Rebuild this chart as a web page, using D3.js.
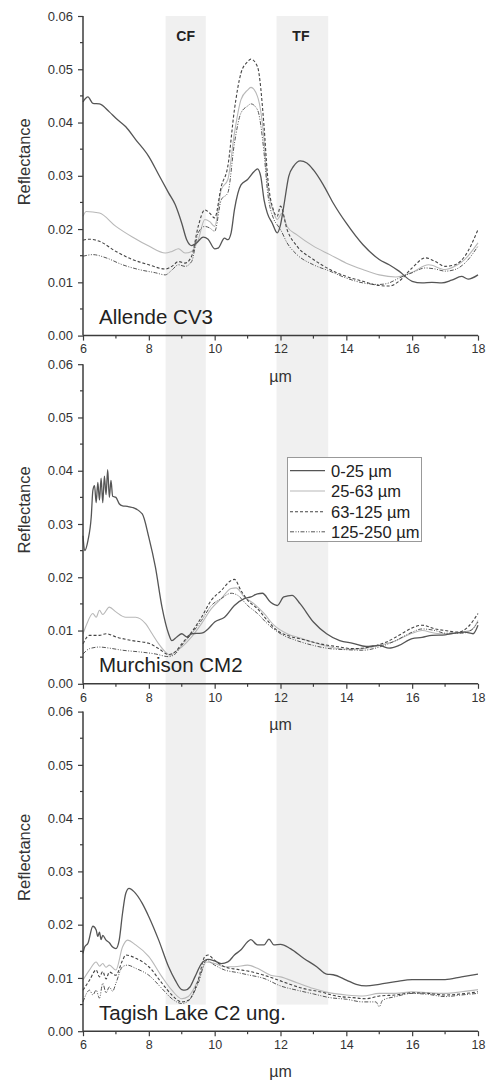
<!DOCTYPE html>
<html><head><meta charset="utf-8">
<script src="https://cdn.jsdelivr.net/npm/d3@7/dist/d3.min.js"></script>
<style>html,body{margin:0;padding:0;background:#fff}svg{display:block}</style>
</head><body><svg id="c" width="487" height="1082"></svg>
<script>
// ---------- DATA ----------
const seriesNames = ["0-25 µm", "25-63 µm", "63-125 µm", "125-250 µm"];
const panelNames = ["Allende CV3", "Murchison CM2", "Tagish Lake C2 ung."];
const xTicks = [6, 8, 10, 12, 14, 16, 18];
const yTicks = [0.00, 0.01, 0.02, 0.03, 0.04, 0.05, 0.06];
const bandCF = [8.51, 9.73];
const bandTF = [11.88, 13.45];

const allende_0_25 = [[6.0,0.0439],[6.15,0.0448],[6.3,0.0436],[6.5,0.0435],[6.8,0.042],[7.0,0.0408],[7.3,0.0392],[7.6,0.0368],[8.0,0.0336],[8.3,0.0302],[8.6,0.0268],[8.8,0.0246],[9.0,0.0211],[9.15,0.018],[9.3,0.0169],[9.45,0.0174],[9.65,0.0185],[9.8,0.0181],[10.0,0.0163],[10.1,0.0164],[10.3,0.0183],[10.4,0.018],[10.5,0.0193],[10.6,0.0236],[10.8,0.0283],[11.0,0.0293],[11.2,0.0308],[11.3,0.0313],[11.4,0.0299],[11.5,0.0255],[11.6,0.023],[11.75,0.0211],[11.9,0.0193],[12.0,0.0208],[12.1,0.0243],[12.25,0.0299],[12.4,0.0318],[12.6,0.0328],[12.8,0.0324],[13.0,0.0311],[13.3,0.0283],[13.6,0.0249],[14.0,0.0211],[14.5,0.0171],[15.0,0.0143],[15.3,0.0133],[15.6,0.0121],[16.0,0.0102],[16.3,0.0099],[16.6,0.01],[16.9,0.0099],[17.2,0.0104],[17.5,0.0111],[17.7,0.0106],[18.0,0.0114]];
const allende_25_63 = [[6.0,0.0224],[6.1,0.0233],[6.5,0.023],[7.0,0.0205],[7.5,0.0185],[8.0,0.0168],[8.5,0.0155],[8.7,0.0158],[8.9,0.0163],[9.1,0.0155],[9.3,0.0158],[9.5,0.018],[9.7,0.0218],[9.85,0.0214],[10.0,0.0205],[10.2,0.0274],[10.4,0.0293],[10.6,0.038],[10.8,0.0443],[11.0,0.0461],[11.1,0.0466],[11.3,0.0449],[11.5,0.0368],[11.6,0.0286],[11.8,0.023],[11.9,0.0218],[12.05,0.023],[12.2,0.0205],[12.5,0.0189],[13.0,0.0168],[13.5,0.0152],[14.0,0.0136],[14.5,0.0124],[15.0,0.0114],[15.5,0.011],[16.0,0.0119],[16.5,0.0133],[17.0,0.0124],[17.3,0.013],[17.6,0.0143],[18.0,0.0174]];
const allende_63_125 = [[6.0,0.0179],[6.2,0.0181],[6.5,0.0177],[7.0,0.0158],[7.5,0.0143],[8.0,0.0133],[8.5,0.0125],[8.7,0.013],[8.9,0.0139],[9.1,0.0136],[9.3,0.0149],[9.5,0.0205],[9.7,0.0236],[9.85,0.023],[10.0,0.0221],[10.2,0.028],[10.4,0.0318],[10.6,0.0424],[10.8,0.0493],[11.0,0.0514],[11.1,0.0519],[11.3,0.0505],[11.5,0.0393],[11.6,0.0305],[11.8,0.0233],[11.9,0.0224],[12.0,0.0243],[12.2,0.0199],[12.5,0.0168],[13.0,0.0143],[13.5,0.0124],[14.0,0.0111],[14.5,0.0102],[15.0,0.0094],[15.3,0.0093],[15.6,0.0102],[16.0,0.0127],[16.4,0.0146],[16.7,0.0139],[17.0,0.013],[17.3,0.0133],[17.6,0.0149],[18.0,0.0199]];
const allende_125_250 = [[6.0,0.0149],[6.3,0.0152],[6.7,0.0146],[7.2,0.0133],[7.7,0.0124],[8.2,0.0118],[8.5,0.0114],[8.7,0.0123],[8.9,0.0133],[9.1,0.013],[9.3,0.0139],[9.5,0.0193],[9.7,0.0205],[9.85,0.0202],[10.0,0.0196],[10.2,0.0255],[10.4,0.0268],[10.6,0.0361],[10.8,0.0418],[11.0,0.0431],[11.1,0.0435],[11.3,0.0424],[11.5,0.0343],[11.6,0.0274],[11.8,0.0218],[11.9,0.0208],[12.0,0.0199],[12.2,0.0174],[12.5,0.0152],[13.0,0.0133],[13.5,0.0121],[14.0,0.0108],[14.5,0.0099],[15.0,0.0096],[15.3,0.0099],[15.6,0.0108],[16.0,0.0118],[16.4,0.0127],[16.7,0.0125],[17.0,0.0121],[17.3,0.0124],[17.6,0.0136],[18.0,0.0168]];

const murchison_0_25 = [[6.0,0.0278],[6.05,0.025],[6.15,0.0269],[6.25,0.0313],[6.3,0.0363],[6.35,0.0372],[6.4,0.034],[6.45,0.0378],[6.5,0.0345],[6.55,0.0386],[6.6,0.034],[6.65,0.039],[6.7,0.0355],[6.75,0.0402],[6.8,0.035],[6.85,0.0382],[6.9,0.0352],[7.0,0.035],[7.1,0.0338],[7.2,0.0334],[7.35,0.0333],[7.5,0.0331],[7.8,0.0319],[8.0,0.0275],[8.2,0.0219],[8.4,0.0144],[8.6,0.0094],[8.7,0.0081],[8.85,0.0088],[9.0,0.0094],[9.15,0.0088],[9.3,0.0094],[9.6,0.0095],[9.8,0.0103],[10.0,0.0116],[10.3,0.0125],[10.6,0.0147],[10.9,0.016],[11.1,0.0163],[11.3,0.0169],[11.45,0.017],[11.7,0.0153],[11.9,0.0147],[12.1,0.0163],[12.35,0.0166],[12.6,0.015],[13.0,0.0116],[13.4,0.0094],[13.8,0.0081],[14.2,0.0076],[14.6,0.007],[15.0,0.0072],[15.3,0.0067],[15.6,0.0072],[16.0,0.0085],[16.3,0.0087],[16.6,0.0091],[17.0,0.0092],[17.3,0.0095],[17.6,0.0097],[17.85,0.0094],[18.0,0.011]];
const murchison_25_63 = [[6.0,0.0094],[6.1,0.011],[6.3,0.0132],[6.4,0.0125],[6.5,0.0138],[6.6,0.013],[6.8,0.0144],[7.0,0.0135],[7.3,0.0125],[7.6,0.0125],[7.9,0.0113],[8.1,0.0094],[8.3,0.0075],[8.5,0.006],[8.65,0.0053],[8.8,0.006],[9.0,0.0069],[9.3,0.0088],[9.6,0.0113],[9.9,0.0141],[10.2,0.016],[10.5,0.0179],[10.65,0.018],[10.9,0.0163],[11.2,0.015],[11.5,0.0132],[11.8,0.011],[12.2,0.0094],[12.6,0.0086],[13.0,0.0078],[13.5,0.0069],[14.0,0.0065],[14.5,0.0066],[15.0,0.0072],[15.5,0.0081],[16.0,0.0095],[16.3,0.01],[16.7,0.0095],[17.0,0.0094],[17.5,0.0097],[17.8,0.0101],[18.0,0.0119]];
const murchison_63_125 = [[6.0,0.0075],[6.2,0.0091],[6.5,0.0091],[6.7,0.0094],[7.0,0.0088],[7.5,0.0081],[8.0,0.0076],[8.3,0.0066],[8.6,0.0055],[8.8,0.006],[9.0,0.0075],[9.3,0.0097],[9.6,0.0125],[9.9,0.0157],[10.2,0.0175],[10.5,0.0194],[10.6,0.0196],[10.8,0.0175],[11.0,0.0157],[11.3,0.0141],[11.6,0.0119],[11.9,0.01],[12.3,0.0089],[12.7,0.0083],[13.2,0.0075],[13.7,0.007],[14.2,0.0066],[14.7,0.0069],[15.2,0.0078],[15.6,0.0091],[16.0,0.0105],[16.3,0.011],[16.7,0.0103],[17.0,0.01],[17.4,0.0097],[17.7,0.0107],[18.0,0.0132]];
const murchison_125_250 = [[6.0,0.0056],[6.2,0.0066],[6.5,0.0069],[6.8,0.0067],[7.2,0.0063],[7.7,0.006],[8.2,0.0056],[8.6,0.0051],[8.8,0.0056],[9.0,0.0072],[9.3,0.0094],[9.6,0.0119],[9.9,0.0147],[10.2,0.016],[10.5,0.017],[10.7,0.0166],[11.0,0.0147],[11.3,0.0132],[11.6,0.0113],[12.0,0.0094],[12.5,0.0081],[13.0,0.0072],[13.5,0.0066],[14.0,0.0064],[14.5,0.0063],[15.0,0.0069],[15.5,0.0081],[16.0,0.0097],[16.3,0.0103],[16.7,0.01],[17.0,0.0095],[17.5,0.0095],[17.8,0.0101],[18.0,0.0116]];

const tagish_0_25 = [[6.0,0.0146],[6.05,0.0158],[6.15,0.0165],[6.3,0.0197],[6.4,0.019],[6.45,0.0178],[6.5,0.0186],[6.55,0.0172],[6.6,0.018],[6.7,0.0171],[6.8,0.0166],[6.9,0.0158],[7.0,0.0155],[7.1,0.0171],[7.2,0.0221],[7.3,0.0259],[7.4,0.0268],[7.55,0.0262],[7.8,0.024],[8.0,0.0215],[8.3,0.0171],[8.6,0.0121],[8.8,0.0096],[9.0,0.0078],[9.1,0.0077],[9.25,0.0083],[9.4,0.0102],[9.6,0.0127],[9.8,0.0135],[10.0,0.0132],[10.2,0.0127],[10.4,0.013],[10.6,0.0143],[10.8,0.0153],[11.0,0.0168],[11.1,0.0172],[11.3,0.0162],[11.5,0.0162],[11.65,0.0173],[11.8,0.0162],[12.0,0.0163],[12.3,0.0155],[12.7,0.0137],[13.1,0.0121],[13.4,0.0107],[13.6,0.0106],[14.0,0.0096],[14.3,0.0088],[14.6,0.0085],[15.0,0.0088],[15.5,0.0093],[16.0,0.0097],[16.5,0.0097],[17.0,0.0097],[17.5,0.0102],[18.0,0.0107]];
const tagish_25_63 = [[6.0,0.0096],[6.2,0.0115],[6.4,0.013],[6.5,0.0122],[6.6,0.0127],[6.7,0.012],[6.8,0.0124],[7.0,0.0115],[7.2,0.0158],[7.35,0.0171],[7.6,0.0162],[8.0,0.014],[8.4,0.0102],[8.7,0.0077],[9.0,0.0061],[9.2,0.0065],[9.5,0.0096],[9.75,0.013],[10.0,0.0127],[10.3,0.0121],[10.6,0.0121],[11.0,0.0124],[11.3,0.0118],[11.7,0.0105],[12.0,0.0102],[12.5,0.0091],[13.0,0.008],[13.5,0.0072],[14.0,0.0068],[14.5,0.0066],[15.0,0.0071],[15.5,0.0071],[16.0,0.0074],[16.5,0.0072],[17.0,0.0071],[17.5,0.0074],[18.0,0.0078]];
const tagish_63_125 = [[6.0,0.0077],[6.2,0.0096],[6.4,0.0115],[6.5,0.0102],[6.6,0.0112],[6.7,0.0098],[6.8,0.0111],[7.0,0.0105],[7.2,0.0133],[7.3,0.0143],[7.6,0.0137],[8.0,0.0121],[8.4,0.009],[8.7,0.0068],[9.0,0.0055],[9.2,0.0058],[9.5,0.0096],[9.7,0.014],[9.8,0.0143],[10.0,0.0133],[10.3,0.0121],[10.7,0.0116],[11.0,0.0113],[11.4,0.0107],[11.8,0.0099],[12.2,0.009],[12.7,0.008],[13.2,0.0074],[13.7,0.0066],[14.2,0.0063],[14.6,0.0061],[15.0,0.0066],[15.5,0.0068],[16.0,0.0072],[16.5,0.0071],[17.0,0.0068],[17.5,0.007],[18.0,0.0074]];
const tagish_125_250 = [[6.0,0.0055],[6.2,0.0077],[6.3,0.0068],[6.4,0.0077],[6.5,0.0062],[6.6,0.009],[6.7,0.0072],[6.8,0.0083],[6.9,0.0075],[7.0,0.009],[7.2,0.0121],[7.35,0.0124],[7.6,0.0118],[8.0,0.0105],[8.4,0.008],[8.7,0.0061],[9.0,0.0052],[9.2,0.0057],[9.5,0.009],[9.75,0.0133],[10.0,0.0124],[10.3,0.0115],[10.7,0.011],[11.0,0.0106],[11.5,0.0099],[12.0,0.0085],[12.5,0.0077],[13.0,0.007],[13.5,0.0063],[14.0,0.006],[14.5,0.0055],[14.9,0.0055],[15.0,0.0046],[15.1,0.0058],[15.5,0.0065],[16.0,0.0071],[16.5,0.0069],[17.0,0.0065],[17.5,0.0068],[18.0,0.0071]];

const panelData = [
  [allende_0_25, allende_25_63, allende_63_125, allende_125_250],
  [murchison_0_25, murchison_25_63, murchison_63_125, murchison_125_250],
  [tagish_0_25, tagish_25_63, tagish_63_125, tagish_125_250]
];

// ---------- STYLE / LAYOUT ----------
const styles = [
  {stroke:"#555", width:1.3, dash:null},
  {stroke:"#b8b8b8", width:1.1, dash:null},
  {stroke:"#444", width:1.1, dash:"3,2"},
  {stroke:"#555", width:1.0, dash:"4,1.5,1,1.5,1,1.5"}
];
const panelTops = [16, 364.2, 711.6];
const panelH = 319.6;
const left = 83, right = 478;
const font = "'Liberation Sans', Arial, Helvetica, sans-serif";
const axisColor = "#3c3c3c";

const svg = d3.select("#c");
const x = d3.scaleLinear().domain([6, 18]).range([left, right]);
const yScales = panelTops.map(t => d3.scaleLinear().domain([0, 0.06]).range([t + panelH, t]));

// bands (continuous through all panels)
const bandTop = yScales[0](0.06), bandBottom = yScales[2](0.005);
[bandCF, bandTF].forEach(b => {
  svg.append("rect").attr("x", x(b[0])).attr("width", x(b[1]) - x(b[0]))
    .attr("y", bandTop).attr("height", bandBottom - bandTop).attr("fill", "#f0f0f0");
});
svg.append("text").attr("x", x((bandCF[0]+bandCF[1])/2)).attr("y", 41).attr("text-anchor","middle")
  .attr("font-family", font).attr("font-weight","bold").attr("font-size", 14).attr("fill","#222").text("CF");
svg.append("text").attr("x", x((bandTF[0]+bandTF[1])/2) - 1.5).attr("y", 41).attr("text-anchor","middle")
  .attr("font-family", font).attr("font-weight","bold").attr("font-size", 14).attr("fill","#222").text("TF");

panelData.forEach((series, p) => {
  const y = yScales[p];
  const g = svg.append("g");
  const line = d3.line().x(d => x(d[0])).y(d => y(d[1])).curve(d3.curveMonotoneX);
  [1, 3, 2, 0].forEach(i => {
    const s = styles[i];
    g.append("path").datum(series[i]).attr("d", line).attr("fill","none")
      .attr("stroke", s.stroke).attr("stroke-width", s.width)
      .attr("stroke-dasharray", s.dash).attr("stroke-linejoin","round");
  });

  const xAxis = d3.axisBottom(x).tickValues(xTicks).tickFormat(d3.format("d")).tickSize(5).tickPadding(4);
  const gx = svg.append("g").attr("transform", `translate(0,${y(0)})`).call(xAxis);
  const yAxis = d3.axisLeft(y).tickValues(yTicks).tickFormat(d3.format(".2f")).tickSize(5).tickPadding(5);
  const gy = svg.append("g").attr("transform", `translate(${left},0)`).call(yAxis);
  [gx, gy].forEach(ga => {
    ga.select(".domain").attr("stroke", axisColor).attr("stroke-width", 1.5);
    ga.selectAll(".tick line").attr("stroke", axisColor).attr("stroke-width", 1.2);
    ga.selectAll(".tick text").attr("font-family", font).attr("fill", "#333");
  });
  gx.selectAll(".tick text").attr("font-size", 12.5);
  gy.selectAll(".tick text").attr("font-size", 13);
  gx.select(".domain").attr("d", `M${left},0H${right}`);
  gy.select(".domain").attr("d", `M0,${y(0.06)}V${y(0)}`);
  const xMinor = [7, 9, 11, 13, 15, 17];
  gx.selectAll(".minor").data(xMinor).enter().append("line")
    .attr("x1", d => x(d)).attr("x2", d => x(d)).attr("y1", 0).attr("y2", 3)
    .attr("stroke", axisColor).attr("stroke-width", 1.2);
  const yMinor = [0.005, 0.015, 0.025, 0.035, 0.045, 0.055];
  gy.selectAll(".minor").data(yMinor).enter().append("line")
    .attr("y1", d => y(d)).attr("y2", d => y(d)).attr("x1", 0).attr("x2", -3)
    .attr("stroke", axisColor).attr("stroke-width", 1.2);

  svg.append("text").attr("transform", `translate(30,${(y(0)+y(0.06))/2 - 14}) rotate(-90)`)
    .attr("text-anchor","middle").attr("font-family", font).attr("font-size", 16.5).attr("fill","#333").text("Reflectance");
  svg.append("text").attr("x", (left+right)/2).attr("y", y(0) + 46).attr("text-anchor","middle")
    .attr("font-family", font).attr("font-size", 16).attr("fill","#333").text("µm");

  svg.append("text").attr("x", 99).attr("y", y(0) - 11.5)
    .attr("font-family", font).attr("font-size", 20.5).attr("fill","#222").text(panelNames[p]);
});

// legend (middle panel)
const lg = svg.append("g");
lg.append("rect").attr("x", 287.5).attr("y", 457.5).attr("width", 134).attr("height", 84)
  .attr("fill", "#fff").attr("stroke", "#999").attr("stroke-width", 1);
const rowY = [470.7, 491, 511.7, 531.8];
seriesNames.forEach((nm, i) => {
  const s = styles[i];
  lg.append("line").attr("x1", 290).attr("x2", 325).attr("y1", rowY[i]).attr("y2", rowY[i])
    .attr("stroke", s.stroke).attr("stroke-width", s.width).attr("stroke-dasharray", s.dash);
  lg.append("text").attr("x", 331).attr("y", rowY[i] + 6).attr("font-family", font)
    .attr("font-size", 16.5).attr("fill", "#222").text(nm);
});
</script></body></html>
